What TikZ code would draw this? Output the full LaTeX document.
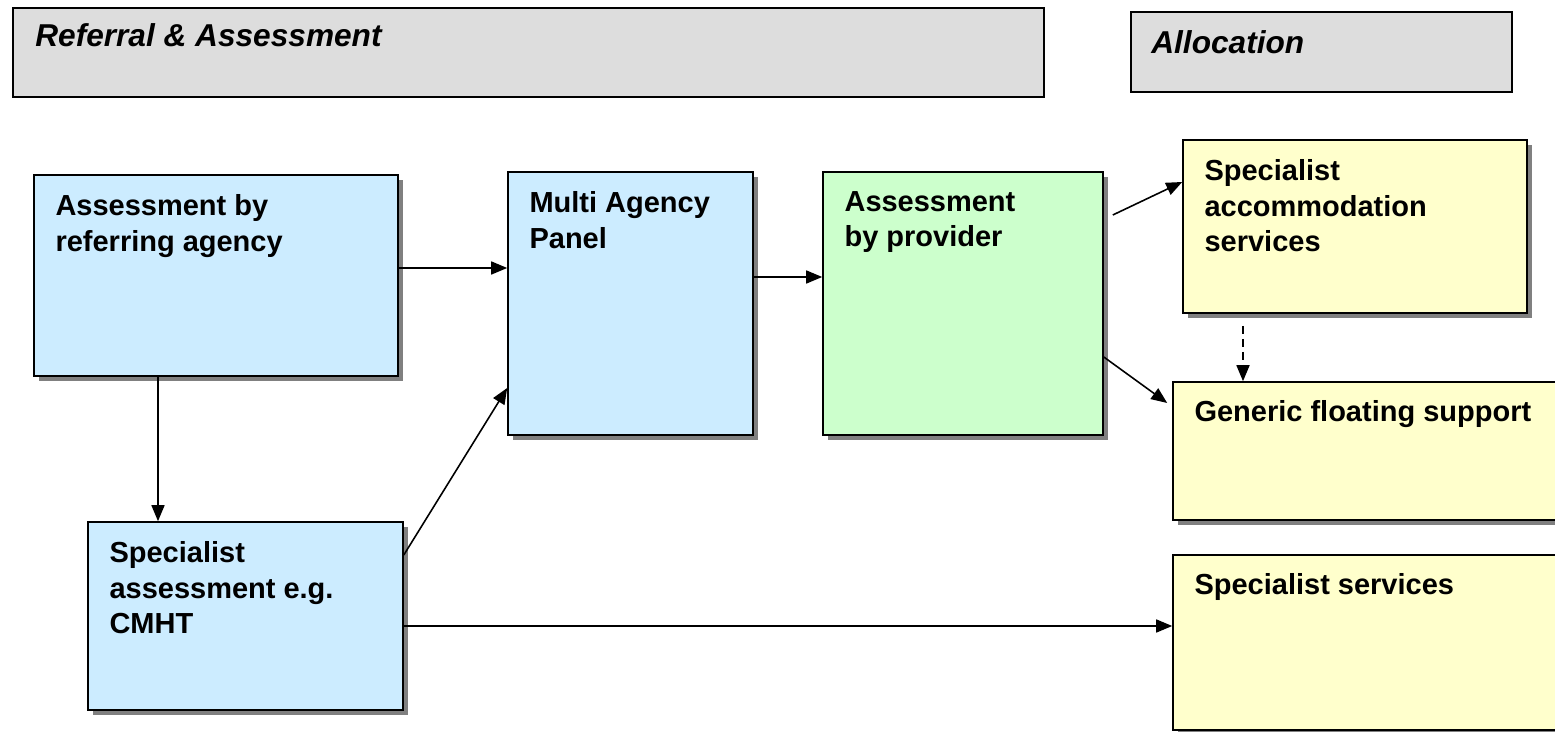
\documentclass[tikz,border=0pt]{standalone}
\usepackage{fontspec}
\setmainfont{Liberation Sans}
\usetikzlibrary{fit}
\usetikzlibrary{calc}
\usetikzlibrary{shadows}
\usetikzlibrary{arrows.meta}

\definecolor{paleblue}{HTML}{CCECFF}
\definecolor{palegreen}{HTML}{CCFFCC}
\definecolor{paleyellow}{HTML}{FFFFCC}
\definecolor{headgray}{HTML}{DDDDDD}

\tikzset{
    panel/.style={draw, line width=0.9pt, inner sep=0pt,
        drop shadow={shadow xshift=0.1cm, shadow yshift=-0.1cm, fill=black!50, opacity=1}},
    header/.style={draw, line width=0.9pt, inner sep=0pt, fill=headgray},
    boxtext/.style={anchor=north west, align=left, inner sep=0pt,
        font=\fontsize{16.5}{20.2}\selectfont\bfseries},
    headtext/.style={anchor=base west, inner sep=0pt,
        font=\fontsize{18}{21}\selectfont\bfseries\itshape},
    arr/.style={line width=0.9pt, -{Triangle[length=0.32cm,width=0.26cm]}},
}

\begin{document}
\begin{tikzpicture}[x=0.02cm, y=-0.02cm]
    \useasboundingbox (0,0) rectangle (1555,732);
    \clip (0,0) rectangle (1555,732);

    % headings
    \node[header, fit={(13,8) (1044,97)}] (headref) {};
    \node[headtext] (headref-t) at (35,47) {Referral \& Assessment};
    \node[header, fit={(1131,12) (1512,92)}] (headalloc) {};
    \node[headtext] (headalloc-t) at (1151,54) {Allocation};

    % boxes
    \node[panel, fill=paleblue, fit={(34,175) (398,376)}] (refer) {};
    \node[panel, fill=paleblue, fit={(88,522) (403,710)}] (spec) {};
    \node[panel, fill=paleblue, fit={(508,172) (753,435)}] (mpanel) {};
    \node[panel, fill=palegreen, fit={(823,172) (1103,435)}] (provider) {};
    \node[panel, fill=paleyellow, fit={(1183,140) (1527,313)}] (accom) {};
    \node[panel, fill=paleyellow, fit={(1173,382) (1590,520)}] (generic) {};
    \node[panel, fill=paleyellow, fit={(1173,555) (1590,730)}] (specserv) {};

    \node[boxtext] (refer-t) at ([shift={(22,20)}]refer.north west) {Assessment by\\referring agency};
    \node[boxtext] (spec-t) at ([shift={(22,20)}]spec.north west) {Specialist\\assessment e.g.\\CMHT};
    \node[boxtext] (mpanel-t) at ([shift={(22,20)}]mpanel.north west) {Multi Agency\\Panel};
    \node[boxtext] (provider-t) at ([shift={(22,20)}]provider.north west) {Assessment\\by provider};
    \node[boxtext] (accom-t) at ([shift={(22,20)}]accom.north west) {Specialist\\accommodation\\services};
    \node[boxtext] (generic-t) at ([shift={(22,19)}]generic.north west) {Generic floating support};
    \node[boxtext] (specserv-t) at ([shift={(22,19)}]specserv.north west) {Specialist services};

    % free ends
    \coordinate (pout1) at ($(provider.east |- 0,215)+(9,0)$);
    \coordinate (gin) at ($(generic.west |- 0,403)+(-5,0)$);
    \coordinate (aout) at ($(accom.south -| 1243,0)+(0,12)$);

    % arrows
    \draw[arr] (refer.east |- 0,268) -- (mpanel.west |- 0,268);
    \draw[arr] (mpanel.east |- 0,277) -- (provider.west |- 0,277);
    \draw[arr] (refer.south -| 158,0) -- (spec.north -| 158,0);
    \draw[arr] (spec.east |- 0,555) -- (mpanel.west |- 0,388);
    \draw[arr] (spec.east |- 0,626) -- (specserv.west |- 0,626);
    \draw[arr] (pout1) -- (accom.west |- 0,182);
    \draw[arr] (provider.east |- 0,357) -- (gin);
    \draw[arr, dash pattern=on 0.16cm off 0.1cm] (aout) -- (generic.north -| aout);
\end{tikzpicture}
\end{document}
